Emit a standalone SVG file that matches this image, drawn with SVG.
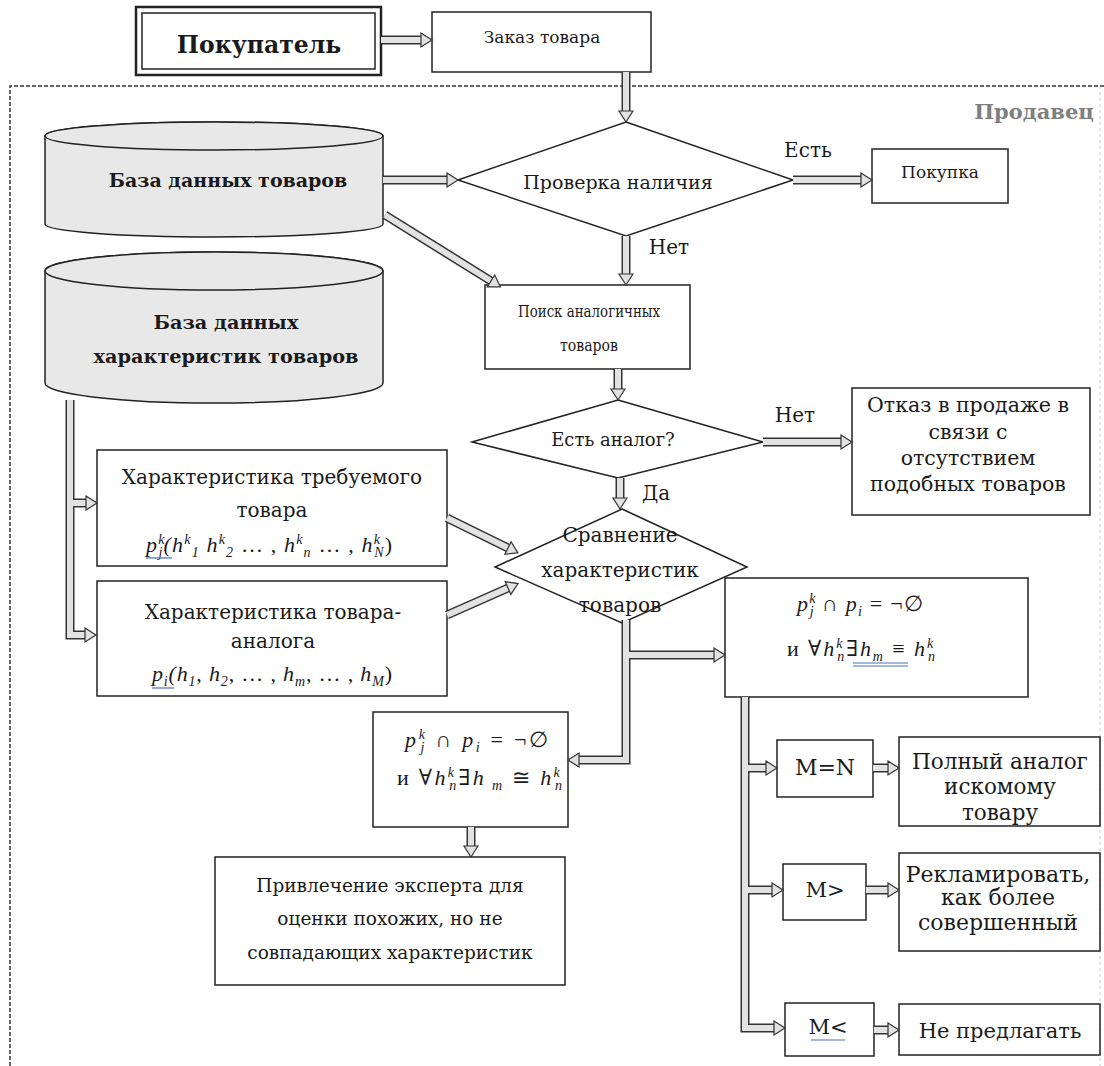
<svg xmlns="http://www.w3.org/2000/svg" width="1104" height="1066" viewBox="0 0 1104 1066">
<style>
.box{fill:#fff;stroke:#222;stroke-width:1.5}
.db{fill:#e8e8e8;stroke:#222;stroke-width:1.5}
.dia{fill:#fff;stroke:#222;stroke-width:1.5}
.t{font-family:"DejaVu Serif","Liberation Serif",serif;font-size:20px;fill:#1a1a1a;text-anchor:middle}
.b{font-weight:bold}
.m{font-family:"Liberation Serif","DejaVu Serif",serif;font-size:22px;fill:#1a1a1a;font-style:italic}
.s{font-size:14px}
.n{font-style:normal}
.so{fill:none;stroke:#333;stroke-width:9;stroke-linejoin:miter}
.si{fill:none;stroke:#e2e2e2;stroke-width:6;stroke-linejoin:miter}
.ul{stroke:#4a6fc2;stroke-width:1.2;fill:none}
</style>
<defs>
<marker id="ah" markerUnits="userSpaceOnUse" orient="auto" markerWidth="14" markerHeight="18" refX="1" refY="9" viewBox="0 0 14 18">
<path d="M1,2 L12,9 L1,16 Z" fill="#e2e2e2" stroke="#333" stroke-width="1.2"/>
</marker>
</defs>
<rect width="1104" height="1066" fill="#fff"/>

<g id="seller-boundary">
<path d="M10,1066 V86 H1104" fill="none" stroke="#333" stroke-width="1.5" stroke-dasharray="4,2"/>
<path d="M1100,86 V1066" fill="none" stroke="#c8c8c8" stroke-width="1" stroke-dasharray="3,3"/>
<text class="t b" x="1034" y="119" style="font-size:21px;fill:#7f7f7f">Продавец</text>
</g>

<g id="buyer">
<rect x="136" y="7" width="245" height="68" fill="#fff" stroke="#222" stroke-width="2.5"/>
<rect x="142" y="13" width="233" height="56" fill="none" stroke="#222" stroke-width="1.5"/>
<text class="t b" x="259" y="53" style="font-size:23.5px">Покупатель</text>
</g>

<g id="order">
<rect class="box" x="432" y="12" width="219" height="60"/>
<text class="t" x="542" y="43" style="font-size:17px">Заказ товара</text>
</g>

<g id="db-goods">
<path class="db" d="M45,136 V224 A169,13 0 0 0 383,224 V136 A169,14 0 0 0 45,136 Z"/>
<ellipse class="db" cx="214" cy="136" rx="169" ry="14"/>
<text class="t b" x="228" y="187" style="font-size:19px">База данных товаров</text>
</g>

<g id="db-chars">
<path class="db" d="M45,271 V383 A169,20 0 0 0 383,383 V271 A169,19 0 0 0 45,271 Z"/>
<ellipse class="db" cx="214" cy="271" rx="169" ry="19"/>
<text class="t b" x="226" y="329" style="font-size:19.3px">База данных</text>
<text class="t b" x="226" y="363" style="font-size:19.3px">характеристик товаров</text>
</g>

<g id="check">
<polygon class="dia" points="626,122 793,180 626,236 458,180"/>
<text class="t" x="618" y="189" style="font-size:19px">Проверка наличия</text>
</g>

<g id="purchase">
<rect class="box" x="872" y="149" width="136" height="54"/>
<text class="t" x="940" y="178" style="font-size:17px">Покупка</text>
</g>

<g id="search">
<rect class="box" x="485" y="285" width="205" height="84"/>
<text class="t" x="589" y="317" style="font-size:16px" textLength="142" lengthAdjust="spacingAndGlyphs">Поиск аналогичных</text>
<text class="t" x="589" y="351" style="font-size:16px" textLength="58" lengthAdjust="spacingAndGlyphs">товаров</text>
</g>

<g id="has-analog">
<polygon class="dia" points="618,400 763,442 618,478 472,442"/>
<text class="t" x="613" y="446" style="font-size:18px">Есть аналог?</text>
</g>

<g id="refuse">
<rect class="box" x="852" y="388" width="238" height="127"/>
<text class="t" x="968" y="412" style="font-size:20.5px">Отказ в продаже в</text>
<text class="t" x="968" y="439" style="font-size:20.5px">связи с</text>
<text class="t" x="968" y="465" style="font-size:20.5px">отсутствием</text>
<text class="t" x="968" y="491" style="font-size:20.5px">подобных товаров</text>
</g>

<g id="req-char">
<rect class="box" x="97" y="450" width="350" height="116"/>
<text class="t" x="272" y="484">Характеристика требуемого</text>
<text class="t" x="272" y="517">товара</text>
<text class="m" x="146" y="552" textLength="246">p<tspan class="s" dy="-8">k</tspan><tspan class="s" dx="-7" dy="13">j</tspan><tspan dy="-5">(h</tspan><tspan class="s" dy="-8">k</tspan><tspan class="s" dy="13">1</tspan><tspan dy="-5"> h</tspan><tspan class="s" dy="-8">k</tspan><tspan class="s" dy="13">2</tspan><tspan dy="-5" class="n"> … , </tspan>h<tspan class="s" dy="-8">k</tspan><tspan class="s" dy="13">n</tspan><tspan dy="-5" class="n"> … , </tspan>h<tspan class="s" dy="-8">k</tspan><tspan class="s" dx="-7" dy="13">N</tspan><tspan dy="-5" class="n">)</tspan></text>
<path class="ul" d="M146,558 H172"/>
</g>

<g id="analog-char">
<rect class="box" x="97" y="581" width="350" height="115"/>
<text class="t" x="273" y="619">Характеристика товара-</text>
<text class="t" x="273" y="648">аналога</text>
<text class="m" x="152" y="681" textLength="240">p<tspan class="s" dy="5">i</tspan><tspan dy="-5">(h</tspan><tspan class="s" dy="5">1</tspan><tspan dy="-5" class="n">, </tspan>h<tspan class="s" dy="5">2</tspan><tspan dy="-5" class="n">, … , </tspan>h<tspan class="s" dy="5">m</tspan><tspan dy="-5" class="n">, … , </tspan>h<tspan class="s" dy="5">M</tspan><tspan dy="-5" class="n">)</tspan></text>
<path class="ul" d="M152,688 H174"/>
</g>

<g id="compare">
<polygon class="dia" points="622,509 747,567 622,623 495,567"/>
<text class="t" x="620" y="542">Сравнение</text>
<text class="t" x="620" y="577">характеристик</text>
<text class="t" x="620" y="612">товаров</text>
</g>

<g id="exact-match">
<rect class="box" x="725" y="578" width="303" height="119"/>
<text class="m" x="797" y="611" textLength="126">p<tspan class="s" dy="-8">k</tspan><tspan class="s" dx="-7" dy="13">j</tspan><tspan dy="-5" class="n"> ∩ </tspan>p<tspan class="s" dy="5">i</tspan><tspan dy="-5" class="n"> = ¬∅</tspan></text>
<text class="m" x="787" y="656" textLength="148"><tspan class="n">и ∀</tspan>h<tspan class="s" dy="-8">k</tspan><tspan class="s" dx="-7" dy="13">n</tspan><tspan dy="-5" class="n">∃</tspan>h<tspan class="s" dy="5">m</tspan><tspan dy="-5" class="n"> ≡ </tspan>h<tspan class="s" dy="-8">k</tspan><tspan class="s" dx="-7" dy="13">n</tspan></text>
<path class="ul" d="M853,663 H908 M853,666 H908"/>
</g>

<g id="similar-match">
<rect class="box" x="373" y="712" width="195" height="115"/>
<text class="m" x="405" y="747" textLength="143">p<tspan class="s" dy="-8">k</tspan><tspan class="s" dx="-7" dy="13">j</tspan><tspan dy="-5" class="n"> ∩ </tspan>p<tspan class="s" dy="5">i</tspan><tspan dy="-5" class="n"> = ¬∅</tspan></text>
<text class="m" x="397" y="785" textLength="165"><tspan class="n">и ∀</tspan>h<tspan class="s" dy="-8">k</tspan><tspan class="s" dx="-7" dy="13">n</tspan><tspan dy="-5" class="n">∃</tspan>h<tspan class="s" dy="5"> m</tspan><tspan dy="-5" class="n"> ≅ </tspan>h<tspan class="s" dy="-8">k</tspan><tspan class="s" dx="-7" dy="13">n</tspan></text>
</g>

<g id="expert">
<rect class="box" x="215" y="857" width="350" height="128"/>
<text class="t" x="390" y="892" style="font-size:18.5px">Привлечение эксперта для</text>
<text class="t" x="390" y="925" style="font-size:18.5px">оценки похожих, но не</text>
<text class="t" x="390" y="959" style="font-size:18.5px">совпадающих характеристик</text>
</g>

<g id="m-eq-n">
<rect class="box" x="777" y="740" width="96" height="57"/>
<text class="t" x="825" y="775" style="font-size:22px">M=N</text>
</g>
<g id="m-gt">
<rect class="box" x="783" y="864" width="83" height="56"/>
<text class="t" x="825" y="897" style="font-size:21px">M&gt;</text>
</g>
<g id="m-lt">
<rect class="box" x="785" y="1003" width="89" height="53"/>
<text class="t" x="828" y="1034" style="font-size:21px">M&lt;</text>
<path class="ul" d="M811,1040 H845"/>
</g>

<g id="full-analog">
<rect class="box" x="899" y="737" width="201" height="89"/>
<text class="t" x="1000" y="769" style="font-size:21.5px">Полный аналог</text>
<text class="t" x="1000" y="794" style="font-size:21.5px">искомому</text>
<text class="t" x="1000" y="820" style="font-size:21.5px">товару</text>
</g>
<g id="advertise">
<rect class="box" x="899" y="853" width="201" height="98"/>
<text class="t" x="998" y="882" style="font-size:22px">Рекламировать,</text>
<text class="t" x="998" y="905" style="font-size:22px">как более</text>
<text class="t" x="998" y="930" style="font-size:22px">совершенный</text>
</g>
<g id="no-offer">
<rect class="box" x="899" y="1004" width="201" height="51"/>
<text class="t" x="1000" y="1038" style="font-size:21px">Не предлагать</text>
</g>

<g id="connectors">
<g id="shafts-outer">
<path class="so" d="M381,40 H421"/>
<path class="so" d="M626,72 V111"/>
<path class="so" d="M793,180 H861"/>
<path class="so" d="M626,236 V274"/>
<path class="so" d="M383,180 H447"/>
<path class="so" d="M385,215 L491,281"/>
<path class="so" d="M618,369 V389"/>
<path class="so" d="M763,442 H841"/>
<path class="so" d="M620,478 V498"/>
<path class="so" d="M70,400 V635 H85"/>
<path class="so" d="M70,503 H86"/>
<path class="so" d="M447,518 L508,548"/>
<path class="so" d="M447,615 L508,588"/>
<path class="so" d="M626,620 V760 H579"/>
<path class="so" d="M626,655 H714"/>
<path class="so" d="M471,827 V846"/>
<path class="so" d="M745,697 V1028 H774"/>
<path class="so" d="M745,768 H766"/>
<path class="so" d="M745,890 H772"/>
<path class="so" d="M873,768 H888"/>
<path class="so" d="M866,890 H888"/>
<path class="so" d="M874,1030 H888"/>
</g>
<g id="shafts-inner">
<path class="si" d="M381,40 H421" marker-end="url(#ah)"/>
<path class="si" d="M626,72 V111" marker-end="url(#ah)"/>
<path class="si" d="M793,180 H861" marker-end="url(#ah)"/>
<path class="si" d="M626,236 V274" marker-end="url(#ah)"/>
<path class="si" d="M383,180 H447" marker-end="url(#ah)"/>
<path class="si" d="M385,215 L491,281" marker-end="url(#ah)"/>
<path class="si" d="M618,369 V389" marker-end="url(#ah)"/>
<path class="si" d="M763,442 H841" marker-end="url(#ah)"/>
<path class="si" d="M620,478 V498" marker-end="url(#ah)"/>
<path class="si" d="M70,400 V635 H85" marker-end="url(#ah)"/>
<path class="si" d="M70,503 H86" marker-end="url(#ah)"/>
<path class="si" d="M447,518 L508,548" marker-end="url(#ah)"/>
<path class="si" d="M447,615 L508,588" marker-end="url(#ah)"/>
<path class="si" d="M626,620 V760 H579" marker-end="url(#ah)"/>
<path class="si" d="M626,655 H714" marker-end="url(#ah)"/>
<path class="si" d="M471,827 V846" marker-end="url(#ah)"/>
<path class="si" d="M745,697 V1028 H774" marker-end="url(#ah)"/>
<path class="si" d="M745,768 H766" marker-end="url(#ah)"/>
<path class="si" d="M745,890 H772" marker-end="url(#ah)"/>
<path class="si" d="M873,768 H888" marker-end="url(#ah)"/>
<path class="si" d="M866,890 H888" marker-end="url(#ah)"/>
<path class="si" d="M874,1030 H888" marker-end="url(#ah)"/>
</g>
<text class="t" x="808" y="157">Есть</text>
<text class="t" x="669" y="254">Нет</text>
<text class="t" x="795" y="422">Нет</text>
<text class="t" x="656" y="500">Да</text>
</g>
</svg>
